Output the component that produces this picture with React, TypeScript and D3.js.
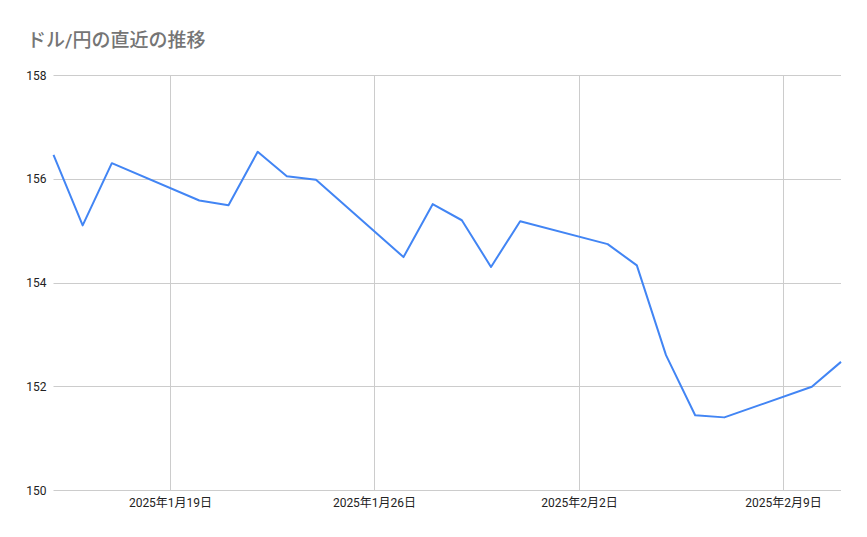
import React from "react";
import * as d3 from "d3";

const dates = [
  "2025-01-15", "2025-01-16", "2025-01-17", "2025-01-20", "2025-01-21", "2025-01-22",
  "2025-01-23", "2025-01-24", "2025-01-27", "2025-01-28", "2025-01-29", "2025-01-30",
  "2025-01-31", "2025-02-03", "2025-02-04", "2025-02-05", "2025-02-06", "2025-02-07",
  "2025-02-10", "2025-02-11",
];
const rates = [
  156.46, 155.1, 156.3, 155.58, 155.49, 156.52,
  156.05, 155.98, 154.49, 155.51, 155.2, 154.3,
  155.18, 154.74, 154.33, 152.6, 151.44, 151.4,
  151.99, 152.47,
];
const yTicks = [150, 152, 154, 156, 158];
const xTickDates = ["2025-01-19", "2025-01-26", "2025-02-02", "2025-02-09"];
const xTickLabels = ["2025年1月19日", "2025年1月26日", "2025年2月2日", "2025年2月9日"];
const title = "ドル/円の直近の推移";

const W = 867;
const H = 537;
const left = 53.5;
const right = 841;
const top = 75;
const bottom = 490;

const parse = d3.utcParse("%Y-%m-%d");

export default function App() {
  const data = dates.map((d, i) => ({ date: parse(d) as Date, v: rates[i] }));
  const x = d3
    .scaleUtc()
    .domain([parse(dates[0]) as Date, parse(dates[dates.length - 1]) as Date])
    .range([left, right]);
  const y = d3.scaleLinear().domain([150, 158]).range([bottom, top]);
  const line = d3
    .line<{ date: Date; v: number }>()
    .x((d) => x(d.date))
    .y((d) => y(d.v));
  const font = "Roboto, 'Noto Sans CJK JP', sans-serif";

  return (
    <svg
      width={W}
      height={H}
      style={{ position: "fixed", left: 0, top: 0, background: "#fff" }}
      fontFamily={font}
    >
      <rect x={0} y={0} width={W} height={H} fill="#fff" />
      <text x={27} y={47} fontSize={19} fontWeight={500} fill="#757575">
        {title}
      </text>
      {yTicks.map((t) => (
        <g key={t}>
          <line x1={left} x2={right} y1={Math.round(y(t)) + 0.5} y2={Math.round(y(t)) + 0.5} stroke="#cccccc" strokeWidth={1} />
          <text x={46.5} y={y(t) + 4.5} fontSize={12} textAnchor="end" fill="#222">
            {t}
          </text>
        </g>
      ))}
      {xTickDates.map((d, i) => {
        const xp = Math.round(x(parse(d) as Date)) + 0.5;
        return (
          <g key={d}>
            <line x1={xp} x2={xp} y1={top} y2={bottom} stroke="#cccccc" strokeWidth={1} />
            <text x={xp} y={507} fontSize={12} textAnchor="middle" fill="#222">
              {xTickLabels[i]}
            </text>
          </g>
        );
      })}
      <path d={line(data) || ""} fill="none" stroke="#4285F4" strokeWidth={2} strokeLinejoin="round" />
    </svg>
  );
}
